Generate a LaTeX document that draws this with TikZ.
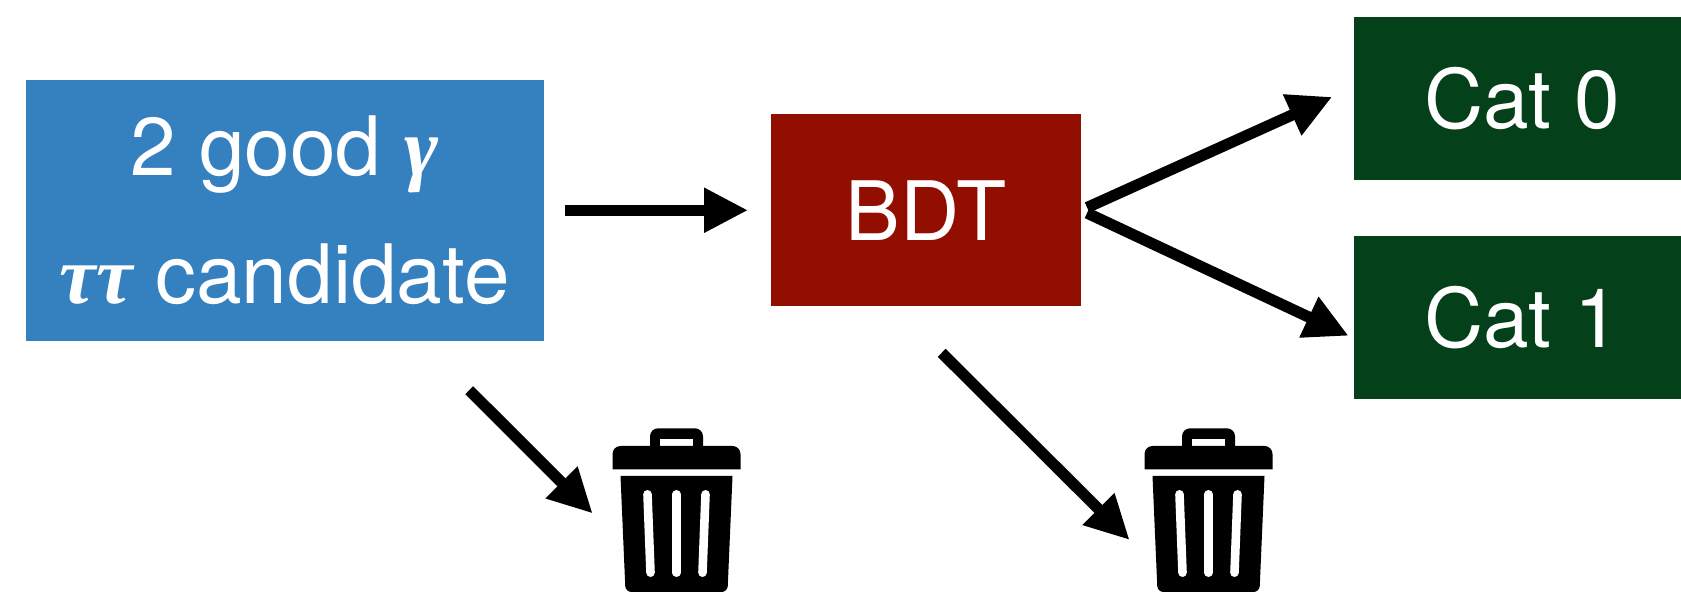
\documentclass[tikz,border=0pt]{standalone}
\usepackage{fontspec}
\setmainfont{TeX Gyre Heros}
\newfontfamily\greekfont{Liberation Serif}
\usetikzlibrary{arrows.meta,positioning}
\definecolor{Sky}{HTML}{3580BF}
\definecolor{Brick}{HTML}{920E00}
\definecolor{Pine}{HTML}{04411A}
\newcommand{\gk}[1]{{\greekfont\bfseries\itshape #1}}
\tikzset{
 box/.style={fill=Sky,text=white,align=center,inner sep=0pt,outer sep=0pt,font=\fontsize{41}{64.3}\selectfont},
 cand/.style={box,minimum width=259pt,minimum height=130.5pt},
 model/.style={box,fill=Brick,minimum width=155pt,minimum height=96pt},
 cat/.style={box,fill=Pine,minimum width=168pt,minimum height=81.5pt},
 binbox/.style={inner sep=0pt,outer sep=0pt,minimum width=64pt,minimum height=82pt},
 arr/.style={-{Triangle[length=22pt,width=21pt]},line width=5.6pt,draw=black},
 trashbin/.pic={
  \fill (-26.5,-60)[rounded corners=4pt]--(-26.5,-81.7)--(26.5,-81.7)[sharp corners]--(26.5,-60)--cycle;
  \fill[white] (-16.5,-71.3) rectangle (16.5,-64.3);
  \fill (-64,-40.7)[rounded corners=4pt]--(-64,-64)--(64,-64)[sharp corners]--(64,-40.7)--cycle;
  \fill (-56,-34)--(56,-34)[rounded corners=3pt]--(51,82)--(-51,82)[sharp corners]--cycle;
  \foreach \p/\q in {-29/-26,0/0,29/26} \draw[white,line width=4.3pt,line cap=round] (\p,-15.7)--(\q,62.7);
 }
}
\begin{document}
\begin{tikzpicture}[x=.5pt,y=-.5pt]
\useasboundingbox (0,0) rectangle (1681,592);
\node[cand] (cand) at (284.6,210.25) {2 good \gk{γ}\\\gk{ττ} candidate};
\node[model,right=113.75pt of cand] (bdt) {BDT};
\node[cat,right=136.5pt of bdt,yshift=55.75pt] (cat0) {Cat 0};
\node[cat,right=136.5pt of bdt,yshift=-53.75pt] (cat1) {Cat 1};
\node[binbox] (bin1) at (676.5,510) {};
\node[binbox] (bin2) at (1208.5,510) {};
\pic at (bin1) {trashbin};
\pic at (bin2) {trashbin};
\foreach \x/\y/\s/\t in {cand/bdt/10.75/11.5,bdt.east/cat0.176.4/3.3/12,bdt.east/cat1.187.8/3.3/3,cand.-44.6/bin1.200/35/14,bdt.252/bin2.215/33/10.5}
 \draw[arr,shorten <=\s pt,shorten >=\t pt] (\x)--(\y);
\end{tikzpicture}
\end{document}
